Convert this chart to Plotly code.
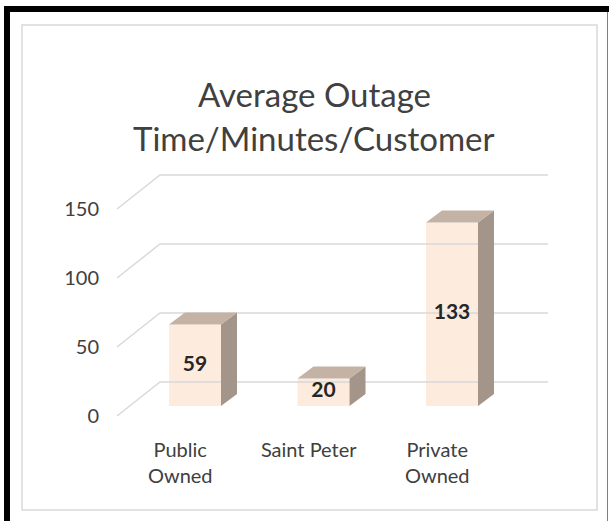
import plotly.graph_objects as go

categories = ['Public<br>Owned', 'Saint Peter', 'Private<br>Owned']
values = [59, 20, 133]
y_ticks = [0, 50, 100, 150]

front_col = '#FDEBDD'
top_col = '#C4B3A5'
side_col = '#A39589'
grid_col = '#D9D9D9'
text_col = '#404040'

# pixel frame of the plot area, used to fake the excel 3d look
W, H = 609, 521
L, R, T, B = 100, 560, 160, 430
x_px0, x_scale = 195, 128.5      # px of category 0, px per category
y_px0, y_scale = 406, 1.38       # px of value 0 (bar front), px per unit

xr = [(L - x_px0) / x_scale, (R - x_px0) / x_scale]
yr = [(y_px0 - B) / y_scale, (y_px0 - T) / y_scale]

half = 26 / x_scale              # half bar width
ddx, ddy = 16 / x_scale, 12 / y_scale        # bar depth
wall_dy = 24 / y_scale                       # back wall offset from bar front
front_dy = 10 / y_scale                      # floor front edge offset
wall_x0 = (160 - x_px0) / x_scale
wall_x1 = (548 - x_px0) / x_scale
edge_x0 = (117 - x_px0) / x_scale


def px(x, y):
    return (x - L) / (R - L), (B - y) / (B - T)


fig = go.Figure()

# back wall gridlines with the diagonal on the side wall
for v in y_ticks:
    xs = [edge_x0, wall_x0, wall_x1]
    ys = [v - front_dy, v + wall_dy, v + wall_dy]
    fig.add_trace(go.Scatter(x=xs, y=ys, mode='lines', hoverinfo='skip',
                             line=dict(color=grid_col, width=1.5)))

xs_pos = list(range(len(values)))

# side and top faces
for i, v in zip(xs_pos, values):
    fig.add_trace(go.Scatter(
        x=[i + half, i + half + ddx, i + half + ddx, i + half, i + half],
        y=[0, ddy, v + ddy, v, 0],
        mode='lines', fill='toself', fillcolor=side_col,
        line=dict(width=0), hoverinfo='skip'))
    fig.add_trace(go.Scatter(
        x=[i - half, i + half, i + half + ddx, i - half + ddx, i - half],
        y=[v, v, v + ddy, v + ddy, v],
        mode='lines', fill='toself', fillcolor=top_col,
        line=dict(width=0), hoverinfo='skip'))

fig.add_trace(go.Bar(x=xs_pos, y=values, width=2 * half,
                     marker=dict(color=front_col, line=dict(width=0))))

fig.add_trace(go.Scatter(x=xs_pos, y=[v / 2 for v in values], mode='text',
                         text=[str(v) for v in values],
                         textfont=dict(family='Lato', size=21, color='#262626',
                                       weight='bold'),
                         hoverinfo='skip'))

shapes = []
# inner light box
x0, y0 = px(22, 25)
x1, y1 = px(597, 510)
shapes.append(dict(type='rect', xref='paper', yref='paper', x0=x0, y0=y0,
                   x1=x1, y1=y1, line=dict(color='#D9D9D9', width=1.5)))
# outer black frame (left + top) and thin right edge
a, b = px(4, 9)
c, d = px(609, 9)
shapes.append(dict(type='line', xref='paper', yref='paper', x0=a, y0=b,
                   x1=c, y1=d, line=dict(color='black', width=6)))
a, b = px(7, 6)
c, d = px(7, 521)
shapes.append(dict(type='line', xref='paper', yref='paper', x0=a, y0=b,
                   x1=c, y1=d, line=dict(color='black', width=6)))
a, b = px(607.5, 12)
c, d = px(607.5, 521)
shapes.append(dict(type='line', xref='paper', yref='paper', x0=a, y0=b,
                   x1=c, y1=d, line=dict(color='#808080', width=1)))

tx, ty1 = px(314, 72)
_, ty2 = px(314, 116)

fig.update_layout(
    width=W, height=H,
    margin=dict(l=L, r=W - R, t=T, b=H - B),
    paper_bgcolor='white', plot_bgcolor='white',
    showlegend=False,
    font=dict(family='Lato', color=text_col),
    shapes=shapes,
    annotations=[
        dict(text='Average Outage', x=tx, y=ty1, xref='paper', yref='paper',
             showarrow=False, font=dict(size=33, color=text_col)),
        dict(text='Time/Minutes/Customer', x=tx, y=ty2, xref='paper',
             yref='paper', showarrow=False, font=dict(size=33, color=text_col)),
    ],
    xaxis=dict(range=xr, showgrid=False, zeroline=False, showline=False,
               tickvals=[i - 0.115 for i in xs_pos], ticktext=categories,
               ticklabelstandoff=6,
               tickfont=dict(size=20, color=text_col), fixedrange=True),
    yaxis=dict(range=yr, showgrid=False, zeroline=False, showline=False,
               tickvals=[v - front_dy for v in y_ticks],
               ticktext=[str(v) for v in y_ticks],
               tickfont=dict(size=20, color=text_col), fixedrange=True),
)

fig.write_html('out.html', config={'displayModeBar': False},
               post_script="document.body.style.margin='0';")
